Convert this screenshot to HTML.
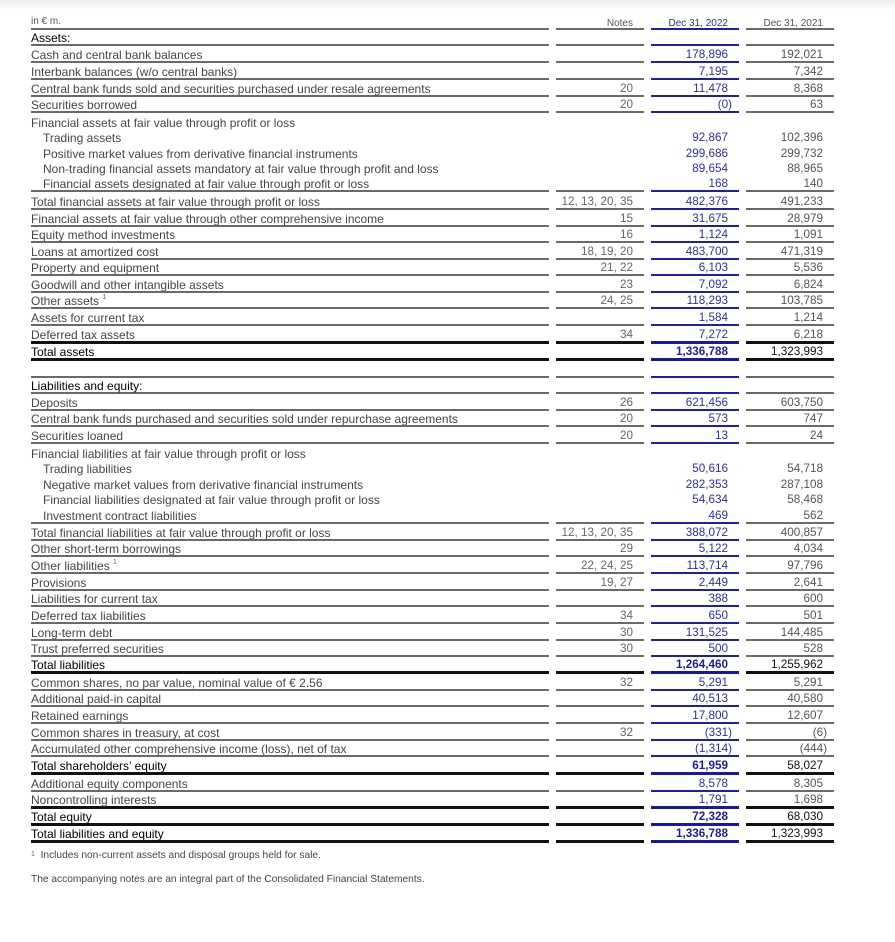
<!DOCTYPE html>
<html>
<head>
<meta charset="utf-8">
<style>
html,body{margin:0;padding:0;background:#fff;}
body{width:895px;height:942px;overflow:hidden;position:relative;font-family:"Liberation Sans",Arial,sans-serif;}
.shadow{position:absolute;left:0;top:0;width:895px;height:9px;background:linear-gradient(#ececec,#ffffff);}
.r{position:absolute;left:0;width:895px;height:16px;}
.r span{position:absolute;top:0;height:14px;padding-top:2px;line-height:16px;white-space:nowrap;}
.l{left:31px;width:518px;font-size:12px;color:#454545;}
.n{left:556px;width:77px;padding-right:11px;text-align:right;font-size:11.7px;color:#666;}
.a{left:651px;width:77px;padding-right:11px;text-align:right;font-size:11.7px;color:#2e2ea8;}
.b{left:746px;width:77px;padding-right:11px;text-align:right;font-size:11.7px;color:#555;}
.r span.p{width:81px;padding-right:7px;}
.r span.i{padding-left:12px;width:506px;}
.ln span{border-bottom:2px solid #6a6a6a;}
.ln span.a{border-bottom-color:#1f1fa0;}
.bk span{border-bottom:3px solid #111;}
.bk span.a{border-bottom-color:#1a1a99;}
.hd span.l{color:#000;}
.t span.l{color:#000;}
.t span.a{font-weight:bold;color:#1d1d95;}
.t span.b{color:#111;}
sup{font-size:7px;vertical-align:top;line-height:10px;color:#666;}
.hdr{position:absolute;left:0;top:16px;width:895px;height:12px;}
.hdr span{position:absolute;top:0;height:12px;line-height:12px;font-size:10px;white-space:nowrap;border-bottom:2px solid #6a6a6a;}
.hdr span.l{color:#555;font-size:10px;}
.hdr span.n,.hdr span.a,.hdr span.b{height:11px;padding-top:1px;line-height:13px;}
.hdr span.n{color:#555;font-size:10px;}
.hdr span.a{color:#2e2ea8;font-size:10px;border-bottom-color:#1f1fa0;}
.hdr span.b{color:#555;font-size:10px;}
.fn{position:absolute;left:31px;font-size:10.2px;line-height:12px;color:#444;white-space:nowrap;}
</style>
</head>
<body>
<div class="shadow"></div>

<div class="hdr"><span class="l">in € m.</span><span class="n">Notes</span><span class="a">Dec 31, 2022</span><span class="b">Dec 31, 2021</span></div>

<div class="r ln hd" style="top:28px"><span class="l">Assets:</span><span class="n"></span><span class="a"></span><span class="b"></span></div>
<div class="r ln" style="top:45px"><span class="l">Cash and central bank balances</span><span class="n"></span><span class="a">178,896</span><span class="b">192,021</span></div>
<div class="r ln" style="top:62px"><span class="l">Interbank balances (w/o central banks)</span><span class="n"></span><span class="a">7,195</span><span class="b">7,342</span></div>
<div class="r ln" style="top:79px"><span class="l">Central bank funds sold and securities purchased under resale agreements</span><span class="n">20</span><span class="a">11,478</span><span class="b">8,368</span></div>
<div class="r ln" style="top:95px"><span class="l">Securities borrowed</span><span class="n">20</span><span class="a p">(0)</span><span class="b">63</span></div>
<div class="r" style="top:113px"><span class="l">Financial assets at fair value through profit or loss</span></div>
<div class="r" style="top:128px"><span class="l i">Trading assets</span><span class="a">92,867</span><span class="b">102,396</span></div>
<div class="r" style="top:144px"><span class="l i">Positive market values from derivative financial instruments</span><span class="a">299,686</span><span class="b">299,732</span></div>
<div class="r" style="top:159px"><span class="l i">Non-trading financial assets mandatory at fair value through profit and loss</span><span class="a">89,654</span><span class="b">88,965</span></div>
<div class="r ln" style="top:174px"><span class="l i">Financial assets designated at fair value through profit or loss</span><span class="n"></span><span class="a">168</span><span class="b">140</span></div>
<div class="r ln" style="top:192px"><span class="l">Total financial assets at fair value through profit or loss</span><span class="n">12, 13, 20, 35</span><span class="a">482,376</span><span class="b">491,233</span></div>
<div class="r ln" style="top:209px"><span class="l">Financial assets at fair value through other comprehensive income</span><span class="n">15</span><span class="a">31,675</span><span class="b">28,979</span></div>
<div class="r ln" style="top:225px"><span class="l">Equity method investments</span><span class="n">16</span><span class="a">1,124</span><span class="b">1,091</span></div>
<div class="r ln" style="top:242px"><span class="l">Loans at amortized cost</span><span class="n">18, 19, 20</span><span class="a">483,700</span><span class="b">471,319</span></div>
<div class="r ln" style="top:258px"><span class="l">Property and equipment</span><span class="n">21, 22</span><span class="a">6,103</span><span class="b">5,536</span></div>
<div class="r ln" style="top:275px"><span class="l">Goodwill and other intangible assets</span><span class="n">23</span><span class="a">7,092</span><span class="b">6,824</span></div>
<div class="r ln" style="top:291px"><span class="l">Other assets <sup>1</sup></span><span class="n">24, 25</span><span class="a">118,293</span><span class="b">103,785</span></div>
<div class="r ln" style="top:308px"><span class="l">Assets for current tax</span><span class="n"></span><span class="a">1,584</span><span class="b">1,214</span></div>
<div class="r bk" style="top:325px"><span class="l">Deferred tax assets</span><span class="n">34</span><span class="a">7,272</span><span class="b">6,218</span></div>
<div class="r bk t" style="top:342px"><span class="l">Total assets</span><span class="n"></span><span class="a">1,336,788</span><span class="b">1,323,993</span></div>
<div class="r ln" style="top:360px"><span class="l"></span><span class="n"></span><span class="a"></span><span class="b"></span></div>
<div class="r ln hd" style="top:376px"><span class="l">Liabilities and equity:</span><span class="n"></span><span class="a"></span><span class="b"></span></div>
<div class="r ln" style="top:393px"><span class="l">Deposits</span><span class="n">26</span><span class="a">621,456</span><span class="b">603,750</span></div>
<div class="r ln" style="top:409px"><span class="l">Central bank funds purchased and securities sold under repurchase agreements</span><span class="n">20</span><span class="a">573</span><span class="b">747</span></div>
<div class="r ln" style="top:426px"><span class="l">Securities loaned</span><span class="n">20</span><span class="a">13</span><span class="b">24</span></div>
<div class="r" style="top:444px"><span class="l">Financial liabilities at fair value through profit or loss</span></div>
<div class="r" style="top:459px"><span class="l i">Trading liabilities</span><span class="a">50,616</span><span class="b">54,718</span></div>
<div class="r" style="top:475px"><span class="l i">Negative market values from derivative financial instruments</span><span class="a">282,353</span><span class="b">287,108</span></div>
<div class="r" style="top:490px"><span class="l i">Financial liabilities designated at fair value through profit or loss</span><span class="a">54,634</span><span class="b">58,468</span></div>
<div class="r ln" style="top:506px"><span class="l i">Investment contract liabilities</span><span class="n"></span><span class="a">469</span><span class="b">562</span></div>
<div class="r ln" style="top:523px"><span class="l">Total financial liabilities at fair value through profit or loss</span><span class="n">12, 13, 20, 35</span><span class="a">388,072</span><span class="b">400,857</span></div>
<div class="r ln" style="top:539px"><span class="l">Other short-term borrowings</span><span class="n">29</span><span class="a">5,122</span><span class="b">4,034</span></div>
<div class="r ln" style="top:556px"><span class="l">Other liabilities <sup>1</sup></span><span class="n">22, 24, 25</span><span class="a">113,714</span><span class="b">97,796</span></div>
<div class="r ln" style="top:573px"><span class="l">Provisions</span><span class="n">19, 27</span><span class="a">2,449</span><span class="b">2,641</span></div>
<div class="r ln" style="top:589px"><span class="l">Liabilities for current tax</span><span class="n"></span><span class="a">388</span><span class="b">600</span></div>
<div class="r ln" style="top:606px"><span class="l">Deferred tax liabilities</span><span class="n">34</span><span class="a">650</span><span class="b">501</span></div>
<div class="r ln" style="top:623px"><span class="l">Long-term debt</span><span class="n">30</span><span class="a">131,525</span><span class="b">144,485</span></div>
<div class="r ln" style="top:639px"><span class="l">Trust preferred securities</span><span class="n">30</span><span class="a">500</span><span class="b">528</span></div>
<div class="r bk t" style="top:655px"><span class="l">Total liabilities</span><span class="n"></span><span class="a">1,264,460</span><span class="b">1,255,962</span></div>
<div class="r ln" style="top:673px"><span class="l">Common shares, no par value, nominal value of € 2.56</span><span class="n">32</span><span class="a">5,291</span><span class="b">5,291</span></div>
<div class="r ln" style="top:689px"><span class="l">Additional paid-in capital</span><span class="n"></span><span class="a">40,513</span><span class="b">40,580</span></div>
<div class="r ln" style="top:706px"><span class="l">Retained earnings</span><span class="n"></span><span class="a">17,800</span><span class="b">12,607</span></div>
<div class="r ln" style="top:723px"><span class="l">Common shares in treasury, at cost</span><span class="n">32</span><span class="a p">(331)</span><span class="b p">(6)</span></div>
<div class="r ln" style="top:739px"><span class="l">Accumulated other comprehensive income (loss), net of tax</span><span class="n"></span><span class="a p">(1,314)</span><span class="b p">(444)</span></div>
<div class="r bk t" style="top:756px"><span class="l">Total shareholders’ equity</span><span class="n"></span><span class="a">61,959</span><span class="b">58,027</span></div>
<div class="r ln" style="top:774px"><span class="l">Additional equity components</span><span class="n"></span><span class="a">8,578</span><span class="b">8,305</span></div>
<div class="r bk" style="top:790px"><span class="l">Noncontrolling interests</span><span class="n"></span><span class="a">1,791</span><span class="b">1,698</span></div>
<div class="r bk t" style="top:807px"><span class="l">Total equity</span><span class="n"></span><span class="a">72,328</span><span class="b">68,030</span></div>
<div class="r bk t" style="top:824px"><span class="l">Total liabilities and equity</span><span class="n"></span><span class="a">1,336,788</span><span class="b">1,323,993</span></div>

<div class="fn" style="top:850px"><sup>1</sup>&nbsp; Includes non-current assets and disposal groups held for sale.</div>
<div class="fn" style="top:874px">The accompanying notes are an integral part of the Consolidated Financial Statements.</div>
</body>
</html>
